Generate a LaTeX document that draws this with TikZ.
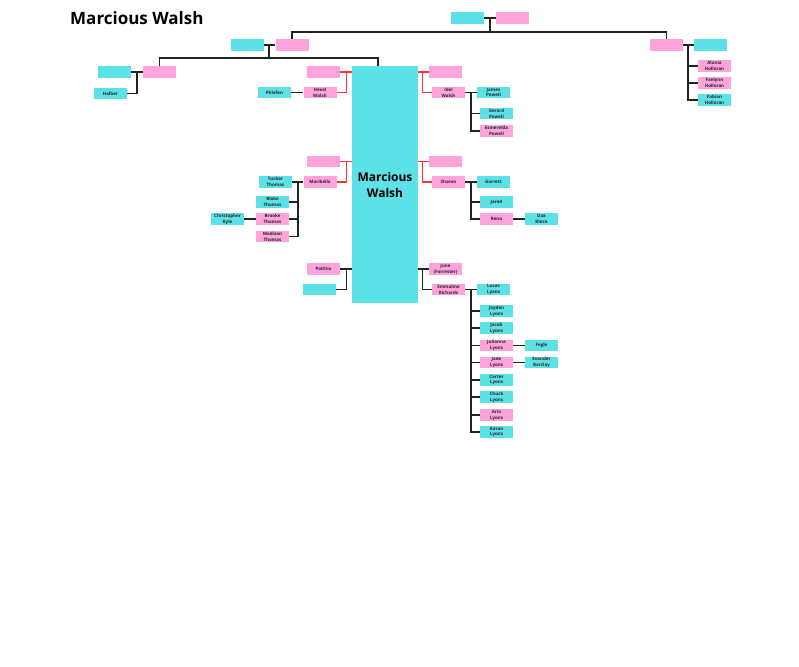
\documentclass[tikz,border=0pt]{standalone}
\usepackage{fontspec}
\setmainfont{Open Sans}
\definecolor{cyanbox}{HTML}{5CE1E6}
\definecolor{pinkbox}{HTML}{FFA3DC}
\definecolor{lineblack}{HTML}{222222}
\definecolor{linered}{HTML}{FF3131}
\begin{document}
\begin{tikzpicture}[x=1pt,y=-1pt,
  box/.style={minimum width=33pt, minimum height=11.5pt, inner sep=0pt, align=center,
    font=\bfseries\fontsize{4.5}{5.8}\selectfont, text=black!85},
  cy/.style={box, fill=cyanbox},
  pk/.style={box, fill=pinkbox},
  conn/.style={draw=lineblack, line width=1.3pt},
  redconn/.style={draw=linered, line width=1.4pt}]
\useasboundingbox (0,0) rectangle (799,666);
% title
\node[anchor=base west, inner sep=0pt, font=\bfseries\fontsize{17}{20}\selectfont] (title) at (70,24.5) {Marcious Walsh};
% top couple
\node[cy] (tc) at (467.5,18) {};
\node[pk] (tp) at (512.5,18) {};
% left couple
\node[cy] (lc) at (247,45) {};
\node[pk] (lp) at (292,45) {};
% right couple
\node[pk] (rp) at (666.5,45) {};
\node[cy] (rc) at (710.5,45) {};
\node[pk] (alania) at (714.5,66) {Alania\\Holloran};
\node[pk] (faelynn) at (714.5,83) {Faelynn\\Holloran};
\node[cy] (fabian) at (714.5,100) {Fabian\\Holloran};
% left grandparents
\node[cy] (gc) at (114.5,72) {};
\node[pk] (gp) at (159.5,72) {};
\node[cy] (halber) at (110.5,93.5) {Halber};
% main
\node[fill=cyanbox, minimum width=66pt, minimum height=236pt, inner sep=0pt, align=center,
  font=\bfseries\fontsize{12}{16}\selectfont] (mw) at (385,184.5) {Marcious\\Walsh};
% left side
\node[pk] (hexblank) at (323.5,72) {};
\node[pk] (hexel) at (320,92.5) {Hexel\\Walsh};
\node[cy] (phlefen) at (274.5,92.5) {Phlefen};
\node[pk] (maribblank) at (323.5,161.5) {};
\node[pk] (maribella) at (320,182) {Maribella};
\node[cy] (tucker) at (275.5,182) {Tucker\\Thomas};
\node[cy] (blake) at (272.5,202) {Blake\\Thomas};
\node[pk] (brooke) at (272.5,219) {Brooke\\Thomas};
\node[pk] (madison) at (272.5,236.5) {Madison\\Thomas};
\node[cy] (christopher) at (227.5,219) {Christopher\\Kyle};
\node[pk] (palthia) at (323.5,269) {Palthia};
\node[cy] (pblank) at (319.5,289.5) {};
% right side
\node[pk] (idelblank) at (445.5,72) {};
\node[pk] (idel) at (448.5,92.5) {Idel\\Walsh};
\node[cy] (james) at (493.5,92.5) {James\\Powell};
\node[cy] (gerard) at (496.5,113.5) {Gerard\\Powell};
\node[pk] (esmerelda) at (496.5,131) {Esmerelda\\Powell};
\node[pk] (sharonblank) at (445.5,161.5) {};
\node[pk] (sharon) at (448.5,182) {Sharon};
\node[cy] (garrett) at (493.5,182) {Garrett};
\node[cy] (jared) at (496.5,202) {Jared};
\node[pk] (rena) at (496.5,219) {Rena};
\node[cy] (dax) at (541.5,219) {Dax\\Klern};
\node[pk] (june) at (445.5,269) {June\\(Forrester)};
\node[pk] (emmaline) at (448.5,289.5) {Emmaline\\Richards};
\node[cy] (lucas) at (493.5,289.5) {Lucas\\Lyons};
\node[cy] (jayden) at (496.5,311) {Jayden\\Lyons};
\node[cy] (jacob) at (496.5,328) {Jacob\\Lyons};
\node[pk] (julianna) at (496.5,345.5) {Julianna\\Lyons};
\node[pk] (jade) at (496.5,362.5) {Jade\\Lyons};
\node[cy] (carter) at (496.5,380) {Carter\\Lyons};
\node[cy] (chuck) at (496.5,397) {Chuck\\Lyons};
\node[pk] (aria) at (496.5,415) {Aria\\Lyons};
\node[cy] (aaron) at (496.5,432) {Aaron\\Lyons};
\node[cy] (fegle) at (541.5,345.5) {Fegle};
\node[cy] (evander) at (541.5,362.5) {Evander\\Barclay};
% junction coordinates
\coordinate (j0) at (490,18);
\coordinate (jl) at (269,45);
\coordinate (jr) at (688,45);
\coordinate (jg) at (137,72);
% top couple connectors
\draw[conn] (tc.east) -- (tp.west);
\draw[conn] (j0) -- (490,32);
\draw[conn] (lp.north) -- ++(0,-7) -| (rp.north);
% left couple
\draw[conn] (lc.east) -- (lp.west);
\draw[conn] (jl) -- ++(0,13);
\draw[conn] (gp.north) -- ++(0,-8) -| ([xshift=-7pt]mw.north);
% right couple
\draw[conn] (rp.east) -- (rc.west);
\draw[conn] (jr) |- (fabian.west);
\draw[conn] (jr |- alania.west) -- (alania.west);
\draw[conn] (jr |- faelynn.west) -- (faelynn.west);
% left grandparents
\draw[conn] (gc.east) -- (gp.west);
\draw[conn] (jg) |- (halber.east);
% main left red
\draw[redconn] (hexblank.east) -- (mw.west |- hexblank.east);
\draw[redconn] ([xshift=-5.5pt]mw.west |- hexblank.east) |- (hexel.east);
\draw[conn] (phlefen.east) -- (hexel.west);
\draw[redconn] (maribblank.east) -- (mw.west |- maribblank.east);
\draw[redconn] ([xshift=-5.5pt]mw.west |- maribblank.east) |- (maribella.east);
\draw[conn] (tucker.east) -- (maribella.west);
\coordinate (jm) at (298,182);
\draw[conn] (jm) |- (madison.east);
\draw[conn] (jm |- blake.east) -- (blake.east);
\draw[conn] (jm |- brooke.east) -- (brooke.east);
\draw[conn] (christopher.east) -- (brooke.west);
\draw[conn] (palthia.east) -- (mw.west |- palthia.east);
\draw[conn] ([xshift=-5.5pt]mw.west |- palthia.east) |- (pblank.east);
% main right
\draw[redconn] (mw.east |- idelblank.west) -- (idelblank.west);
\draw[redconn] ([xshift=4.5pt]mw.east |- idelblank.west) |- (idel.west);
\draw[conn] (idel.east) -- (james.west);
\coordinate (ji) at (471,92.5);
\draw[conn] (ji) |- (esmerelda.west);
\draw[conn] (ji |- gerard.west) -- (gerard.west);
\draw[redconn] (mw.east |- sharonblank.west) -- (sharonblank.west);
\draw[redconn] ([xshift=4.5pt]mw.east |- sharonblank.west) |- (sharon.west);
\draw[conn] (sharon.east) -- (garrett.west);
\coordinate (js) at (471,182);
\draw[conn] (js) |- (rena.west);
\draw[conn] (js |- jared.west) -- (jared.west);
\draw[conn] (rena.east) -- (dax.west);
\draw[conn] (mw.east |- june.west) -- (june.west);
\draw[conn] ([xshift=4.5pt]mw.east |- june.west) |- (emmaline.west);
\draw[conn] (emmaline.east) -- (lucas.west);
\coordinate (je) at (471,289.5);
\draw[conn] (je) |- (aaron.west);
\foreach \c in {jayden,jacob,julianna,jade,carter,chuck,aria}
  \draw[conn] (je |- \c.west) -- (\c.west);
\draw[conn] (julianna.east) -- (fegle.west);
\draw[conn] (jade.east) -- (evander.west);
\end{tikzpicture}
\end{document}
